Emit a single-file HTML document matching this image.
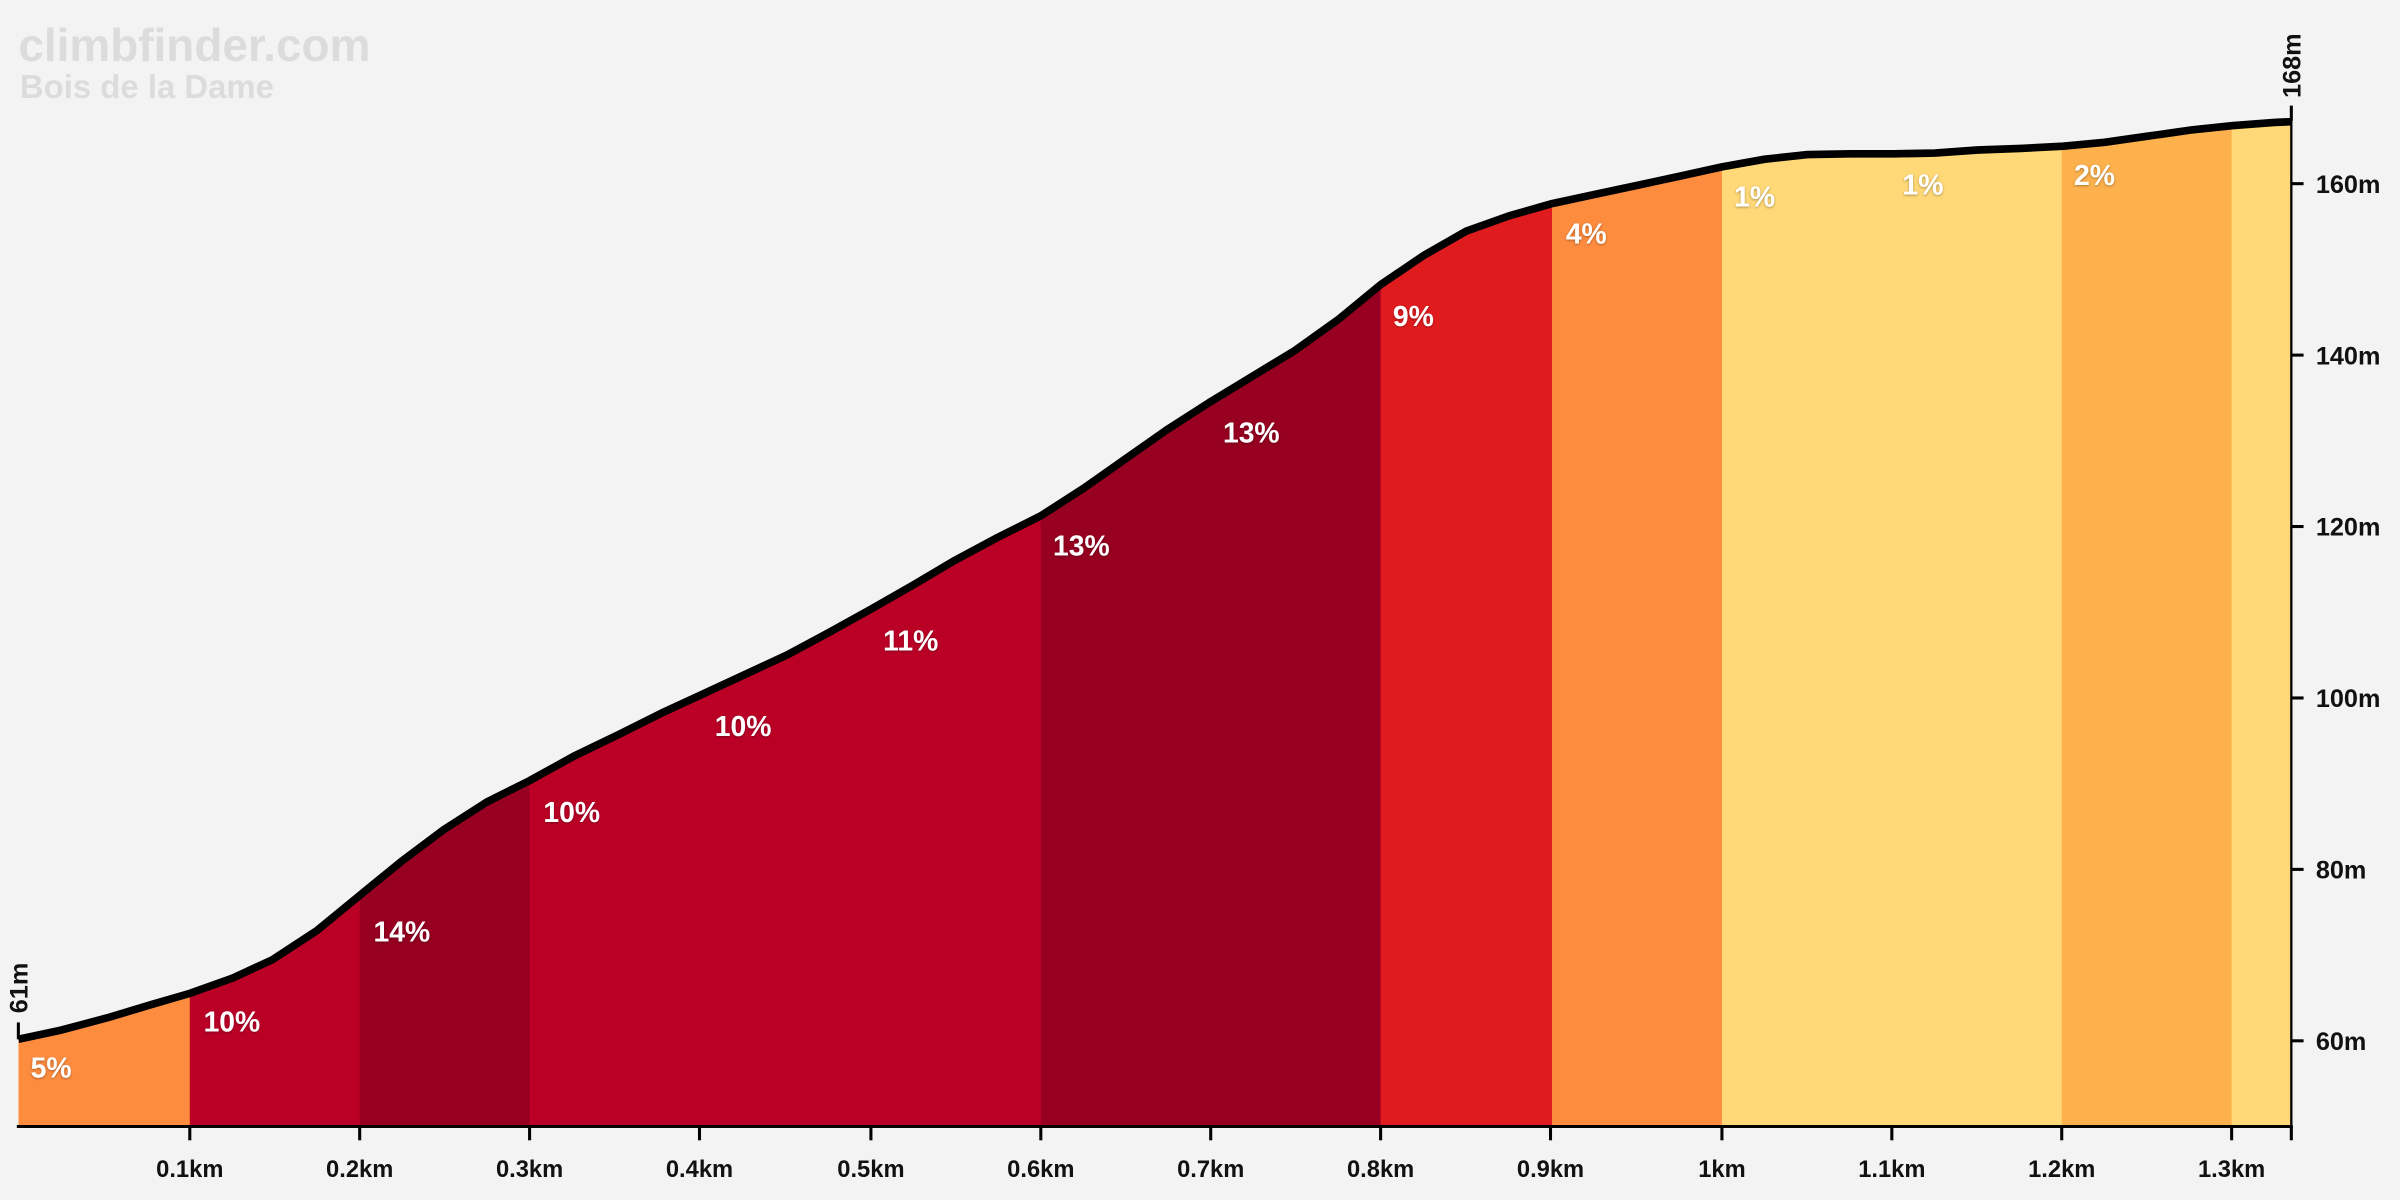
<!DOCTYPE html>
<html><head><meta charset="utf-8"><style>
html,body{margin:0;padding:0;background:#f3f3f3;}
svg{display:block;}
text{font-family:"Liberation Sans",sans-serif;font-weight:bold;}
.p{fill:#fff;font-size:18.5px;filter:url(#sh);}
.ax{fill:#111;font-size:15.5px;}
.ay{fill:#111;font-size:16.5px;}
</style></head><body>
<svg width="2400" height="1200" viewBox="0 0 1568 784" xmlns="http://www.w3.org/2000/svg">
<defs>
<filter id="sh" x="-20%" y="-20%" width="140%" height="140%"><feDropShadow dx="0" dy="0.6" stdDeviation="0.8" flood-color="#000" flood-opacity="0.35"/></filter>
<clipPath id="area"><polygon points="12,679 40,673 70,665 100,656 124,649 152,639 178,627 207,608 235,585 262,563 290,542 318,524 346,510 375,494 404,480 432,466 458,454 486,441 514,428 542,413 569,398 597,382 624,366 652,351 680,337 708,319 735,300 762,281 790,263 818,246 846,229 874,209 902,186 930,167 958,151 986,141 1014,133 1042,127 1070,121 1098,115 1125,109 1153,104 1181,101 1209,100.5 1237,100.5 1264,100 1292,98 1320,97 1348,95.5 1375,93 1403,89 1431,85 1459,82 1486,80 1497,79.5 1497,736 12,736"/></clipPath>
</defs>
<rect width="1568" height="784" fill="#f3f3f3"/>
<text x="12" y="40" font-size="30" fill="#dcdcdc">climbfinder.com</text>
<text x="13" y="64" font-size="21.5" fill="#dcdcdc">Bois de la Dame</text>
<g clip-path="url(#area)">
<rect x="12" y="0" width="113" height="736" fill="#fe8c3f"/>
<rect x="124" y="0" width="112" height="736" fill="#bb0026"/>
<rect x="235" y="0" width="112" height="736" fill="#970020"/>
<rect x="346" y="0" width="335" height="736" fill="#bb0026"/>
<rect x="680" y="0" width="223" height="736" fill="#970020"/>
<rect x="902" y="0" width="113" height="736" fill="#e01b1e"/>
<rect x="1014" y="0" width="112" height="736" fill="#fe8c3f"/>
<rect x="1125" y="0" width="223" height="736" fill="#ffd877"/>
<rect x="1347" y="0" width="112" height="736" fill="#fdb14d"/>
<rect x="1458" y="0" width="40" height="736" fill="#ffd877"/>
</g>
<polyline fill="none" stroke="#000" stroke-width="5" stroke-linejoin="round" points="12,679 40,673 70,665 100,656 124,649 152,639 178,627 207,608 235,585 262,563 290,542 318,524 346,510 375,494 404,480 432,466 458,454 486,441 514,428 542,413 569,398 597,382 624,366 652,351 680,337 708,319 735,300 762,281 790,263 818,246 846,229 874,209 902,186 930,167 958,151 986,141 1014,133 1042,127 1070,121 1098,115 1125,109 1153,104 1181,101 1209,100.5 1237,100.5 1264,100 1292,98 1320,97 1348,95.5 1375,93 1403,89 1431,85 1459,82 1486,80 1497,79.5"/>
<g class="p">
<text x="20" y="704">5%</text>
<text x="133" y="674">10%</text>
<text x="244" y="615">14%</text>
<text x="355" y="537">10%</text>
<text x="467" y="481">10%</text>
<text x="577" y="425">11%</text>
<text x="688" y="363">13%</text>
<text x="799" y="289">13%</text>
<text x="910" y="213">9%</text>
<text x="1023" y="159">4%</text>
<text x="1133" y="135">1%</text>
<text x="1243" y="127">1%</text>
<text x="1355" y="121">2%</text>
</g>
<g stroke="#000" stroke-width="2">
<line x1="11" y1="736" x2="1498" y2="736"/>
<line x1="1497" y1="79" x2="1497" y2="737" stroke-width="1.5"/>
<line x1="124" y1="736" x2="124" y2="745"/><line x1="235" y1="736" x2="235" y2="745"/>
<line x1="346" y1="736" x2="346" y2="745"/><line x1="457" y1="736" x2="457" y2="745"/>
<line x1="569" y1="736" x2="569" y2="745"/><line x1="680" y1="736" x2="680" y2="745"/>
<line x1="791" y1="736" x2="791" y2="745"/><line x1="902" y1="736" x2="902" y2="745"/>
<line x1="1013" y1="736" x2="1013" y2="745"/><line x1="1125" y1="736" x2="1125" y2="745"/>
<line x1="1236" y1="736" x2="1236" y2="745"/><line x1="1347" y1="736" x2="1347" y2="745"/>
<line x1="1458" y1="736" x2="1458" y2="745"/><line x1="1497" y1="736" x2="1497" y2="745"/>
<line x1="1497" y1="680" x2="1505" y2="680"/><line x1="1497" y1="568" x2="1505" y2="568"/>
<line x1="1497" y1="456" x2="1505" y2="456"/><line x1="1497" y1="344" x2="1505" y2="344"/>
<line x1="1497" y1="232" x2="1505" y2="232"/><line x1="1497" y1="120" x2="1505" y2="120"/>
<line x1="1497" y1="69" x2="1497" y2="79"/><line x1="12" y1="668" x2="12" y2="679"/>
</g>
<g class="ax" text-anchor="middle">
<text x="124" y="769">0.1km</text><text x="235" y="769">0.2km</text><text x="346" y="769">0.3km</text>
<text x="457" y="769">0.4km</text><text x="569" y="769">0.5km</text><text x="680" y="769">0.6km</text>
<text x="791" y="769">0.7km</text><text x="902" y="769">0.8km</text><text x="1013" y="769">0.9km</text>
<text x="1125" y="769">1km</text><text x="1236" y="769">1.1km</text><text x="1347" y="769">1.2km</text>
<text x="1458" y="769">1.3km</text>
</g>
<g class="ay">
<text x="1513" y="686">60m</text><text x="1513" y="574">80m</text><text x="1513" y="462">100m</text>
<text x="1513" y="350">120m</text><text x="1513" y="238">140m</text><text x="1513" y="126">160m</text>
<text transform="translate(1503,64) rotate(-90)">168m</text>
<text transform="translate(18,662) rotate(-90)">61m</text>
</g>
</svg>
</body></html>
